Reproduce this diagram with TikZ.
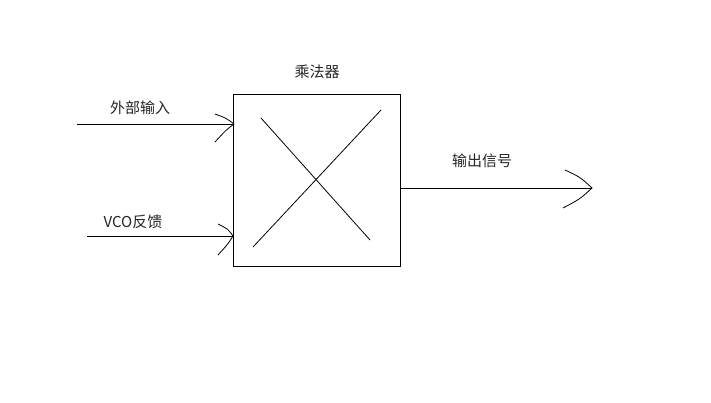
\documentclass[tikz,border=0pt]{standalone}
\usepackage{fontspec}
\newfontfamily\cjk{Noto Sans CJK SC}
\begin{document}
\begin{tikzpicture}[x=1pt,y=-1pt,
  wire/.style={draw=black,line width=1pt},
  thin/.style={draw=black,line width=0.8pt},
  lbl/.style={font=\cjk\fontsize{15}{17}\selectfont,text=black!85,inner sep=0pt}]
\useasboundingbox (0,0) rectangle (711,402);
\fill[white] (0,0) rectangle (711,402);
% multiplier box
\node[draw=black,line width=1pt,minimum width=167pt,minimum height=172pt,inner sep=0pt] (mul) at (316.5,180) {};
\coordinate (c1a) at (261,118); \coordinate (c1b) at (370,240);
\coordinate (c2a) at (253,247); \coordinate (c2b) at (381,110);
\draw[thin] (c1a) -- (c1b);
\draw[thin] (c2a) -- (c2b);
% labels
\node[lbl] (tmul) at (317,72) {乘法器};
\node[lbl] (tin1) at (140,108) {外部输入};
\node[lbl] (tin2) at (133,222) {VCO反馈};
\node[lbl] (tout) at (482,161) {输出信号};
% input 1
\coordinate (s1) at (77,124);
\coordinate (t1) at (234,124);
\coordinate (u1) at (215,114);
\coordinate (l1) at (215,142);
\draw[wire] (s1) -- (t1);
\draw[thin] (u1) .. controls (226,118) .. (t1) .. controls (226,130) .. (l1);
% input 2
\coordinate (s2) at (87,236);
\coordinate (t2) at (233,236);
\coordinate (u2) at (218,224);
\coordinate (l2) at (218,255);
\draw[wire] (s2) -- (t2);
\draw[thin] (u2) .. controls (228,229) .. (t2) .. controls (228,244) .. (l2);
% output
\coordinate (s3) at (mul.east |- 0,188);
\coordinate (t3) at (592,188);
\coordinate (u3) at (565,170);
\coordinate (l3) at (563,208);
\draw[wire] (s3) -- (t3);
\draw[thin] (u3) .. controls (580,177) .. (t3) .. controls (580,199) .. (l3);
\end{tikzpicture}
\end{document}
